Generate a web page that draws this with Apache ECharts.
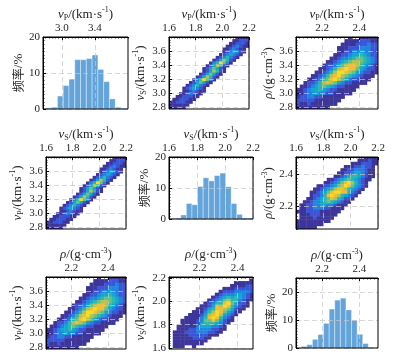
<!DOCTYPE html>
<html>
<head>
<meta charset="utf-8">
<script src="https://cdn.jsdelivr.net/npm/echarts@6/dist/echarts.min.js"></script>
<style>
  html, body { margin: 0; padding: 0; background: #fff; }
  #main { width: 405px; height: 361px; }
</style>
</head>
<body>
<div id="main"></div>
<script>
// ---- histograms: lower bin edge, bin width, frequency (%) ----
const vpHistLow = [2.805, 2.875, 2.945, 3.015, 3.085, 3.155, 3.225, 3.295, 3.365, 3.435, 3.505, 3.575, 3.645, 3.715];
const vpHistW = 0.07;
const vpHistPct = [0.3, 0.5, 3.6, 6.5, 8.3, 13.7, 13.7, 14.0, 15.0, 11.0, 7.6, 2.8, 0.5, 0.2];

const vsHistLow = [1.604, 1.644, 1.684, 1.724, 1.764, 1.804, 1.844, 1.884, 1.924, 1.964, 2.004, 2.044, 2.084, 2.124, 2.164];
const vsHistW = 0.04;
const vsHistPct = [0.2, 0.3, 1.3, 5.0, 4.6, 10.5, 13.3, 12.3, 14.0, 14.8, 10.4, 5.0, 1.5, 0.3, 0.3];

const rhoHistLow = [2.088, 2.118, 2.148, 2.178, 2.208, 2.238, 2.268, 2.298, 2.328, 2.358, 2.388, 2.418, 2.448];
const rhoHistW = 0.03;
const rhoHistPct = [0.6, 1.2, 3.1, 4.8, 8.8, 13.9, 17.1, 17.8, 13.6, 10.0, 4.9, 1.6, 0.2];

// ---- 2-D density (colour level 1..9), rows from the top: [first column, levels] ----
// vS (cols, from 1.6 step 0.025) vs vP (rows, from 3.81 down, step 0.04)
const vsVpX0 = 1.6, vsVpDx = 0.025, vsVpYTop = 3.81, vsVpDy = 0.04;
const vsVpRows = [
  [20, '1111'], [19, '11222'], [18, '112221'], [17, '1123211'], [16, '1123211'],
  [16, '1234321'], [15, '1234321'], [14, '1235321'], [13, '1247521'], [12, '1359631'],
  [11, '1247521'], [10, '1246421'], [10, '1247521'], [9, '1246421'], [8, '1247521'],
  [7, '1359631'], [6, '1246421'], [5, '1235321'], [4, '1234321'], [4, '1123211'],
  [3, '1123211'], [2, '1122211'], [1, '1122211'], [0, '1122211'], [0, '111111'], [0, '11111']
];
// rho (cols, from 2.06 step 0.02) vs vP (rows, from 3.82 down, step 0.05)
const rhoVpX0 = 2.06, rhoVpDx = 0.02, rhoVpYTop = 3.82, rhoVpDy = 0.05;
const rhoVpRows = [
  [14, '1..11111'], [13, '111122211'], [12, '1111222322'], [11, '11122233322'],
  [11, '11223343322'], [10, '112234454322'], [9, '1123345665432'], [8, '11234567765432'],
  [7, '122346788754321'], [6, '1123578988643221'], [5, '11235799876432211'],
  [4, '11235789765432111'], [3, '11235689764322111'], [2, '12235787643221111'],
  [1, '1123456543221111'], [0, '1123445432211111'], [0, '112334332211111'],
  [0, '1223322111111'], [0, '222221111111'], [0, '21121111111'], [0, '111111111']
];
// vS (cols, from 1.6 step 0.025) vs rho (rows, from 2.52 down, step 0.02)
const vsRhoX0 = 1.6, vsRhoDx = 0.025, vsRhoYTop = 2.52, vsRhoDy = 0.02;
const vsRhoRows = [
  [20, '1111'], [18, '111211'], [16, '11122211'], [14, '111223221'], [13, '1122333211'],
  [12, '11223443211'], [11, '112345543211'], [9, '1123456543211'], [8, '1123468975321'],
  [6, '112234679864321'], [5, '112345788754321'], [4, '112346899885321'],
  [4, '12235898754321'], [3, '11234568754221'], [2, '11233456543211'],
  [1, '11223344332111'], [1, '1122333221111'], [0, '1112222111111'], [1, '11122211111'],
  [1, '1111211111'], [0, '1111111111'], [0, '11111111'], [0, '111111']
];

// ---- tick labels ----
const vpHistTicks = [3.0, 3.4];
const vpTicks = [2.8, 3.0, 3.2, 3.4, 3.6];
const vsTicks = [1.6, 1.8, 2.0, 2.2];
const rhoTicks = [2.2, 2.4];
const pctTicks = [0, 10, 20];

const SERIF = 'Liberation Serif';
const TXT = '#262626';
const BAR = '#63a4da';
const PARULA = ['#3e3599', '#3a55d8', '#1f86e0', '#11a8cf', '#2ab8b0', '#6ec07f', '#b5c24d', '#efbd3a', '#f8dc24'];

const rich = {
  i: { fontFamily: SERIF, fontStyle: 'italic', fontSize: 13, lineHeight: 16, color: TXT },
  n: { fontFamily: SERIF, fontSize: 13, lineHeight: 16, color: TXT },
  sub: { fontFamily: SERIF, fontSize: 8, lineHeight: 9, verticalAlign: 'bottom', color: TXT },
  sup: { fontFamily: SERIF, fontSize: 8, lineHeight: 9, verticalAlign: 'top', color: TXT },
  cjk: { fontFamily: 'Noto Sans CJK SC', fontSize: 12, lineHeight: 16, color: TXT }
};
const NAME = {
  vp: '{i|v}{sub|P}{n|/(km·s}{sup|-1}{n|)}',
  vs: '{i|v}{sub|S}{n|/(km·s}{sup|-1}{n|)}',
  rho: '{i|ρ}{n|/(g·cm}{sup|-3}{n|)}',
  freq: '{cjk|频率}{n|/%}'
};

// axis ranges
const R = {
  vpH: { min: 2.77, max: 3.8, ticks: vpHistTicks, minor: 0.04, dec: 1 },
  vp: { min: 2.77, max: 3.8, ticks: vpTicks, minor: 0.04, dec: 1 },
  vs: { min: 1.6, max: 2.2, ticks: vsTicks, minor: 0.02, dec: 1 },
  vs8: { min: 1.59, max: 2.21, ticks: vsTicks, minor: 0.02, dec: 1 },
  rho: { min: 2.06, max: 2.5, ticks: rhoTicks, minor: 0.02, dec: 1 },
  rhoY: { min: 2.06, max: 2.51, ticks: rhoTicks, minor: 0.02, dec: 1 },
  rho8: { min: 2.04, max: 2.48, ticks: rhoTicks, minor: 0.02, dec: 1 },
  p20: { min: 0, max: 20, ticks: pctTicks, minor: 1, dec: 0 },
  p25: { min: 0, max: 25, ticks: pctTicks, minor: 1, dec: 0 }
};

const panels = [
  { box: [43, 37, 85, 72], x: R.vpH, xn: NAME.vp, y: R.p20, yn: NAME.freq, hist: [vpHistLow, vpHistW, vpHistPct] },
  { box: [169, 37, 80, 72], x: R.vs, xn: NAME.vp, y: R.vp, yn: NAME.vs, dens: [vsVpRows, vsVpX0, vsVpDx, vsVpYTop, vsVpDy, false] },
  { box: [296, 37, 82, 72], x: R.rho, xn: NAME.vp, y: R.vp, yn: NAME.rho, dens: [rhoVpRows, rhoVpX0, rhoVpDx, rhoVpYTop, rhoVpDy, false] },
  { box: [46, 157, 80, 72], x: R.vs, xn: NAME.vs, y: R.vp, yn: NAME.vp, dens: [vsVpRows, vsVpX0, vsVpDx, vsVpYTop, vsVpDy, false] },
  { box: [169, 157, 84, 62], x: R.vs, xn: NAME.vs, y: R.p20, yn: NAME.freq, hist: [vsHistLow, vsHistW, vsHistPct] },
  { box: [296, 157, 82, 72], x: R.vs, xn: NAME.vs, y: R.rhoY, yn: NAME.rho, dens: [vsRhoRows, vsRhoX0, vsRhoDx, vsRhoYTop, vsRhoDy, false] },
  { box: [46, 277, 80, 72], x: R.rho, xn: NAME.rho, y: R.vp, yn: NAME.vp, dens: [rhoVpRows, rhoVpX0, rhoVpDx, rhoVpYTop, rhoVpDy, false] },
  { box: [169, 277, 84, 72], x: R.rho8, xn: NAME.rho, y: R.vs8, yn: NAME.vs, dens: [vsRhoRows, vsRhoX0, vsRhoDx, vsRhoYTop, vsRhoDy, true] },
  { box: [296, 278, 82, 70], x: R.rho, xn: NAME.rho, y: R.p25, yn: NAME.freq, hist: [rhoHistLow, rhoHistW, rhoHistPct] }
];

function minorValues(r) {
  const out = [];
  const k0 = Math.ceil(r.min / r.minor - 1e-6);
  for (let k = k0; k * r.minor <= r.max + 1e-9; k++) out.push(+(k * r.minor).toFixed(4));
  return out;
}

function axisPair(gi, pos, r, name) {
  const base = { gridIndex: gi, type: 'value', position: pos, min: r.min, max: r.max, z: 5 };
  const main = Object.assign({}, base, {
    name: name,
    nameLocation: 'middle',
    nameGap: pos === 'top' ? 14 : 16,
    nameTextStyle: { rich: rich },
    axisLine: { show: true, onZero: false, lineStyle: { color: '#000', width: 1 } },
    axisTick: { show: true, inside: true, length: 3, customValues: r.ticks, lineStyle: { color: '#000', width: 1 } },
    axisLabel: {
      show: true, customValues: r.ticks, margin: 3,
      fontFamily: SERIF, fontSize: 11, color: TXT,
      formatter: v => (+v).toFixed(r.dec)
    },
    splitLine: { show: true, lineStyle: { color: 'rgba(200,200,200,0.7)', type: [5, 3], width: 1 } }
  });
  const minor = Object.assign({}, base, {
    axisLine: { show: false, onZero: false },
    axisLabel: { show: false },
    splitLine: { show: false },
    axisTick: { show: true, inside: true, length: 1.5, customValues: minorValues(r), lineStyle: { color: '#000', width: 0.8 } }
  });
  return [main, minor];
}

function densityData(rows, x0, dx, yTop, dy, transpose) {
  const out = [];
  rows.forEach(([c0, s], r) => {
    for (let k = 0; k < s.length; k++) {
      if (s[k] === '.') continue;
      const a = x0 + (c0 + k + 0.5) * dx;
      const b = yTop - (r + 0.5) * dy;
      out.push(transpose ? [b, a, +s[k]] : [a, b, +s[k]]);
    }
  });
  return out;
}

const grid = [], xAxis = [], yAxis = [], series = [], densIdx = [];

panels.forEach((p, i) => {
  grid.push({
    left: p.box[0], top: p.box[1], width: p.box[2], height: p.box[3],
    show: true, borderColor: '#000', borderWidth: 1, backgroundColor: 'transparent',
    z: 6, containLabel: false, outerBoundsMode: 'none'
  });
  xAxis.push(...axisPair(i, 'top', p.x, p.xn));
  yAxis.push(...axisPair(i, 'left', p.y, p.yn));
  const axes = { xAxisIndex: 2 * i, yAxisIndex: 2 * i };

  if (p.hist) {
    const [low, w, pct] = p.hist;
    series.push(Object.assign({
      type: 'custom',
      clip: true,
      data: low.map((x, k) => [x, x + w, pct[k]]),
      renderItem: (params, api) => {
        const a = api.coord([api.value(0), api.value(2)]);
        const b = api.coord([api.value(1), 0]);
        return {
          type: 'rect',
          shape: { x: a[0], y: a[1], width: b[0] - a[0], height: b[1] - a[1] },
          style: { fill: BAR, stroke: 'rgba(255,255,255,0.55)', lineWidth: 0.7 }
        };
      }
    }, axes));
  } else {
    const [rows, x0, dx, yTop, dy, tr] = p.dens;
    const sx = tr ? dy : dx, sy = tr ? dx : dy;
    densIdx.push(series.length);
    series.push(Object.assign({
      type: 'custom',
      clip: true,
      data: densityData(rows, x0, dx, yTop, dy, tr),
      renderItem: (params, api) => {
        const c = api.coord([api.value(0), api.value(1)]);
        const s = api.size([sx, sy]);
        return {
          type: 'rect',
          shape: { x: c[0] - s[0] / 2, y: c[1] - s[1] / 2, width: s[0] + 0.4, height: s[1] + 0.4 },
          style: { fill: api.visual('color') }
        };
      }
    }, axes));
  }
});

const chart = echarts.init(document.getElementById('main'));
chart.setOption({
  animation: false,
  backgroundColor: '#fff',
  grid: grid,
  xAxis: xAxis,
  yAxis: yAxis,
  visualMap: {
    type: 'continuous', show: false, seriesIndex: densIdx, dimension: 2,
    min: 1, max: 9, inRange: { color: PARULA }
  },
  series: series
});
</script>
</body>
</html>
